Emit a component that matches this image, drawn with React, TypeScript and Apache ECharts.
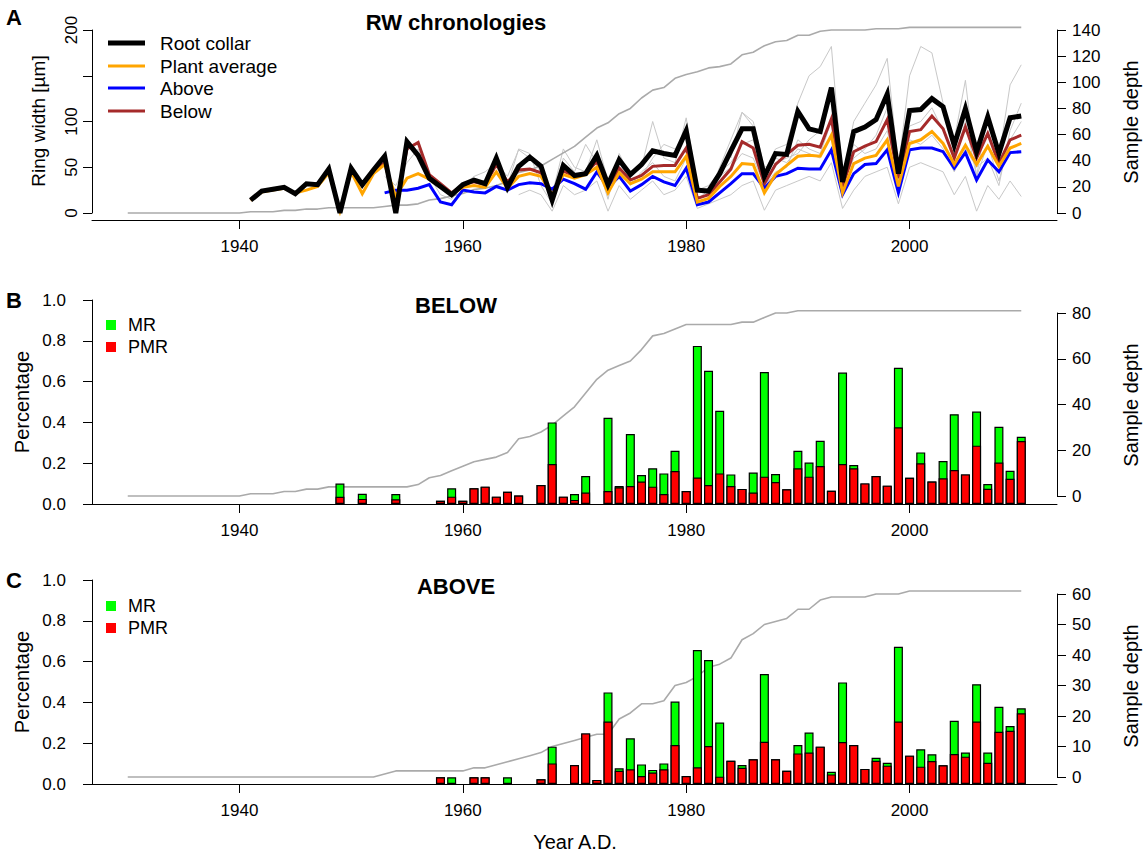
import React, { useEffect, useRef } from 'react';
import * as echarts from 'echarts';

const FONT = "'Liberation Sans', Arial, Helvetica, sans-serif";
const X_MIN = 1926.8;
const X_MAX = 2013.2;
const xTickYears = [1940, 1960, 1980, 2000];
const rwTickLabels = [0, 50, 100, 200];
const RW_MAX = 200;

// ---- Panel A: ring-width chronologies (µm) ----
const rwStart = 1941;
const rootCollar = [14, 24, 26, 28, 21, 32, 31, 48, 0, 49, 31, 47, 62, 0, 78, 63, 38, 29, 20, 31, 36, 32, 60, 28, 51, 61, 51, 14, 52, 41, 43, 63, 31, 58, 42, 53, 68, 65, 63, 90, 25, 24, 43, 68, 92, 92, 40, 65, 64, 111, 92, 89, 137, 34, 89, 94, 102, 130, 43, 112, 113, 125, 116, 74, 114, 67, 105, 65, 104, 106];
const plantAverage = [14, 23, 25, 27, 22, 25, 29, 44, 2, 45, 21, 43, 53, 18, 38, 43, 37, 29, 21, 28, 30, 28, 45, 27, 40, 43, 40, 20, 42, 38, 42, 50, 22, 44, 32, 37, 45, 45, 45, 62, 12, 16, 29, 40, 54, 53, 22, 42, 52, 62, 63, 62, 85, 22, 54, 60, 63, 80, 29, 76, 80, 89, 76, 53, 74, 53, 73, 51, 71, 76];
const belowRW = [14, 24, 26, 28, 21, 32, 31, 48, 1, 49, 30, 46, 55, 10, 70, 77, 42, 32, 22, 31, 34, 31, 53, 34, 47, 48, 44, 17, 46, 40, 44, 56, 24, 49, 36, 41, 51, 52, 52, 71, 16, 20, 34, 48, 78, 71, 32, 53, 64, 74, 75, 72, 103, 29, 67, 73, 78, 102, 38, 89, 91, 106, 92, 60, 94, 60, 87, 54, 80, 85];
const aboveStart = 1953;
const aboveRW = [22, 25, 25, 27, 31, 12, 9, 25, 23, 22, 29, 25, 31, 33, 32, 26, 37, 32, 26, 45, 28, 40, 24, 31, 40, 34, 30, 49, 9, 12, 22, 32, 43, 43, 27, 40, 43, 49, 48, 48, 69, 20, 43, 53, 54, 69, 22, 69, 71, 71, 67, 49, 66, 36, 58, 45, 66, 67];

// individual (thin grey) series
const indiv1Start = 1984;
const indiv1 = [60, 110, 95, 45, 70, 75, 120, 150, 160, 182, 40, 100, 120, 140, 169, 50, 150, 182, 175, 120, 80, 145, 40, 110, 60, 140, 162];
const indiv2Start = 1963;
const indiv2 = [50, 30, 70, 65, 30, 10, 60, 45, 75, 55, 15, 65, 40, 50, 100, 60, 55, 104, 30, 20, 50, 80, 110, 100, 50, 55, 60, 65, 80, 90, 130, 30, 60, 70, 85, 115, 35, 95, 100, 115, 90, 60, 100, 40, 75, 35, 80, 100];
const indiv3Start = 1965;
const indiv3 = [20, 25, 20, 2, 30, 20, 25, 35, 2, 30, 15, 25, 35, 20, 25, 40, 5, 10, 15, 20, 30, 35, 3, 25, 30, 35, 40, 35, 55, 5, 25, 40, 45, 50, 10, 50, 55, 50, 45, 20, 40, 2, 30, 15, 35, 18];
const indiv4Start = 1953;
const indiv4 = [40, 30, 55, 70, 40, 20, 15, 30, 40, 45, 55, 40, 69, 60, 45, 20, 70, 50, 45, 80, 35, 55, 35, 40, 60, 75, 70, 85, 25, 30, 45, 55, 75, 80, 35, 60, 55, 70, 65, 60];
const indiv5Start = 1975;
const indiv5 = [30, 45, 55, 40, 35, 60, 15, 25, 40, 50, 65, 60, 30, 45, 50, 80, 70, 65, 100, 25, 75, 65, 70, 90, 40, 80, 75, 85, 70, 45, 70, 50, 60, 30, 90, 120];

// sample depth, 1930-2010
const depthStart = 1930;
const depthA = [0, 0, 0, 0, 0, 0, 0, 0, 0, 0, 0, 1, 1, 1, 2, 2, 3, 3, 4, 4, 4, 4, 4, 5, 6, 6, 7, 10, 11, 13, 15, 18, 19, 21, 24, 31, 33, 36, 41, 46, 51, 58, 65, 69, 76, 80, 88, 94, 96, 103, 106, 108, 111, 112, 114, 121, 123, 128, 131, 132, 136, 136, 139, 140, 140, 140, 140, 141, 141, 141, 142, 142, 142, 142, 142, 142, 142, 142, 142, 142, 142];
const depthB = [0, 0, 0, 0, 0, 0, 0, 0, 0, 0, 0, 1, 1, 1, 2, 2, 3, 3, 4, 4, 4, 4, 4, 4, 4, 4, 5, 8, 9, 11, 13, 15, 16, 17, 19, 25, 26, 28, 31, 35, 39, 45, 51, 55, 57, 59, 64, 70, 71, 73, 75, 75, 75, 75, 75, 76, 76, 78, 80, 80, 81, 81, 81, 81, 81, 81, 81, 81, 81, 81, 81, 81, 81, 81, 81, 81, 81, 81, 81, 81, 81];
const depthC = [0, 0, 0, 0, 0, 0, 0, 0, 0, 0, 0, 0, 0, 0, 0, 0, 0, 0, 0, 0, 0, 0, 0, 1, 2, 2, 2, 2, 2, 2, 2, 3, 3, 4, 5, 6, 7, 8, 10, 11, 12, 13, 14, 14, 19, 21, 24, 24, 25, 30, 31, 33, 36, 37, 39, 45, 47, 50, 51, 52, 55, 55, 58, 59, 59, 59, 59, 60, 60, 60, 61, 61, 61, 61, 61, 61, 61, 61, 61, 61, 61];

// ---- Panel B: BELOW (fractions) ----
const yearsB = [1949, 1951, 1954, 1958, 1959, 1960, 1961, 1962, 1963, 1964, 1965, 1967, 1968, 1969, 1970, 1971, 1973, 1974, 1975, 1976, 1977, 1978, 1979, 1980, 1981, 1982, 1983, 1984, 1985, 1986, 1987, 1988, 1989, 1990, 1991, 1992, 1993, 1994, 1995, 1996, 1997, 1998, 1999, 2000, 2001, 2002, 2003, 2004, 2005, 2006, 2007, 2008, 2009, 2010];
const pmrB = [0.035, 0.025, 0.023, 0.016, 0.036, 0.016, 0.077, 0.085, 0.036, 0.06, 0.042, 0.093, 0.196, 0.036, 0.02, 0.056, 0.064, 0.082, 0.088, 0.11, 0.085, 0.049, 0.162, 0.064, 0.13, 0.093, 0.15, 0.088, 0.074, 0.056, 0.134, 0.108, 0.072, 0.175, 0.134, 0.186, 0.065, 0.196, 0.175, 0.101, 0.137, 0.09, 0.376, 0.129, 0.2, 0.11, 0.126, 0.167, 0.145, 0.286, 0.075, 0.203, 0.124, 0.309];
const mrB = [0.065, 0.025, 0.026, 0, 0.041, 0, 0, 0, 0, 0, 0, 0, 0.204, 0, 0.029, 0.081, 0.359, 0.006, 0.255, 0.032, 0.09, 0.101, 0.099, 0, 0.645, 0.56, 0.307, 0.057, 0, 0.098, 0.513, 0.039, 0, 0.086, 0.069, 0.124, 0, 0.448, 0.016, 0, 0, 0, 0.292, 0, 0.053, 0, 0.085, 0.273, 0, 0.167, 0.023, 0.176, 0.039, 0.021];

// ---- Panel C: ABOVE (fractions) ----
const yearsC = [1958, 1959, 1961, 1962, 1964, 1967, 1968, 1970, 1971, 1972, 1973, 1974, 1975, 1976, 1977, 1978, 1979, 1980, 1981, 1982, 1983, 1984, 1985, 1986, 1987, 1988, 1989, 1990, 1991, 1992, 1993, 1994, 1995, 1996, 1997, 1998, 1999, 2000, 2001, 2002, 2003, 2004, 2005, 2006, 2007, 2008, 2009, 2010];
const pmrC = [0.033, 0, 0.033, 0.033, 0, 0.023, 0.101, 0.093, 0.248, 0.02, 0.306, 0.065, 0.072, 0.039, 0.056, 0.072, 0.191, 0.039, 0.082, 0.186, 0.036, 0.114, 0.08, 0.121, 0.207, 0.121, 0.065, 0.15, 0.154, 0.183, 0.047, 0.206, 0.191, 0.074, 0.114, 0.09, 0.306, 0.139, 0.085, 0.113, 0.092, 0.147, 0.134, 0.306, 0.104, 0.256, 0.261, 0.347];
const mrC = [0, 0.033, 0, 0, 0.033, 0, 0.082, 0, 0, 0, 0.143, 0.012, 0.152, 0.057, 0.013, 0.029, 0.213, 0, 0.575, 0.422, 0.265, 0, 0.013, 0, 0.332, 0, 0, 0.041, 0.098, 0, 0.013, 0.292, 0, 0, 0.015, 0.014, 0.367, 0, 0.085, 0.033, 0, 0.163, 0.02, 0.183, 0.05, 0.123, 0.023, 0.024];

const seq = (start: number, vals: number[]) => vals.map((v, i) => [start + i, v]);
const byYears = (years: number[], vals: number[]) => years.map((y, i) => [y, vals[i]]);

const TICK_FS = 17;
const txt = { color: '#000', fontFamily: FONT };
const GRID_A = { left: 92, right: 88, top: 30, height: 183 };

function xAxisCfg(gridIndex: number, show: boolean, offset = 0) {
  return {
    type: 'value', gridIndex, min: X_MIN, max: X_MAX, show, offset,
    axisLine: { show: true, onZero: false, lineStyle: { color: '#000', width: 1 } },
    axisTick: { show: true, customValues: xTickYears, length: 9, lineStyle: { color: '#000' } },
    axisLabel: { show: true, customValues: xTickYears, fontSize: TICK_FS, margin: 18, formatter: (v: number) => String(v), ...txt },
    splitLine: { show: false },
  };
}

function rightAxis(gridIndex: number, max: number, interval: number) {
  return {
    type: 'value', gridIndex, position: 'right', min: 0, max, interval,
    axisLine: { show: true, lineStyle: { color: '#000' } },
    axisTick: { show: true, length: 9, lineStyle: { color: '#000' } },
    axisLabel: { fontSize: TICK_FS, margin: 15, formatter: (v: number) => String(v), ...txt },
    splitLine: { show: false },
  };
}

function leftFracAxis(gridIndex: number) {
  return {
    type: 'value', gridIndex, position: 'left', min: 0, max: 1, interval: 0.2,
    axisLine: { show: true, lineStyle: { color: '#000' } },
    axisTick: { show: true, length: 9, lineStyle: { color: '#000' } },
    axisLabel: { fontSize: TICK_FS, margin: 26, formatter: (v: number) => v.toFixed(1), ...txt },
    splitLine: { show: false },
  };
}

function greyLine(start: number, vals: number[]) {
  return {
    type: 'line', xAxisIndex: 0, yAxisIndex: 0, data: seq(start, vals), symbol: 'none', clip: false,
    lineStyle: { color: '#c8c8c8', width: 1 }, z: 1,
  };
}

function depthLine(xi: number, yi: number, vals: number[]) {
  return {
    type: 'line', xAxisIndex: xi, yAxisIndex: yi, data: seq(depthStart, vals), symbol: 'none', clip: false,
    lineStyle: { color: '#aaaaaa', width: 1.6 }, z: 2,
  };
}

function barSeries(xi: number, yi: number, years: number[], vals: number[], color: string, z: number) {
  return {
    type: 'bar', xAxisIndex: xi, yAxisIndex: yi, barWidth: 9, barGap: '-100%',
    data: byYears(years, vals),
    itemStyle: { color, borderColor: '#000', borderWidth: 1.2 }, z,
  };
}

function rwLine(start: number, vals: number[], color: string, width: number, z: number) {
  return {
    type: 'line', xAxisIndex: 0, yAxisIndex: 0, data: seq(start, vals), symbol: 'none', clip: false,
    lineStyle: { color, width, join: 'miter' }, z,
  };
}

function label(text: string, x: number, y: number, size: number, bold = false, rotate = false, align = 'center') {
  return {
    type: 'text', x, y, rotation: rotate ? Math.PI / 2 : 0, z: 10,
    style: { text, fill: '#000', font: `${bold ? 'bold ' : ''}${size}px ${FONT}`, align, verticalAlign: 'middle' },
  };
}

function legendLine(y: number, color: string, width: number, text: string) {
  return [
    { type: 'line', shape: { x1: 108, y1: y, x2: 145, y2: y }, style: { stroke: color, lineWidth: width }, z: 10 },
    label(text, 160, y, 19, false, false, 'left'),
  ];
}

function legendBox(y: number, color: string, text: string) {
  return [
    { type: 'rect', shape: { x: 106, y: y - 5, width: 10, height: 10 }, style: { fill: color }, z: 10 },
    label(text, 128, y, 18, false, false, 'left'),
  ];
}

// rotated tick labels of the ring-width axis (R's las=0 style), placed on the axis' value scale
function rwAxisLabels() {
  return rwTickLabels.map((v) =>
    label(String(v), 71, GRID_A.top + GRID_A.height * (1 - v / RW_MAX), TICK_FS, false, true),
  );
}

function buildOption() {
  const totalB = pmrB.map((v, i) => v + mrB[i]);
  const totalC = pmrC.map((v, i) => v + mrC[i]);
  const grid = [
    GRID_A,
    { left: 92, right: 88, top: 300, height: 204 },
    { left: 92, right: 88, top: 313, height: 183 },
    { left: 92, right: 88, top: 580, height: 204 },
    { left: 92, right: 88, top: 594, height: 183 },
  ];
  const xAxis = [
    xAxisCfg(0, true, 7),
    xAxisCfg(1, true),
    xAxisCfg(2, false),
    xAxisCfg(3, true),
    xAxisCfg(4, false),
  ];
  const yAxis = [
    {
      type: 'value', gridIndex: 0, position: 'left', min: 0, max: RW_MAX, interval: 50,
      axisLine: { show: true, lineStyle: { color: '#000' } },
      axisTick: { show: true, length: 9, lineStyle: { color: '#000' } },
      axisLabel: { show: false },
      splitLine: { show: false },
    },
    rightAxis(0, 140, 20),
    leftFracAxis(1),
    rightAxis(2, 80, 20),
    leftFracAxis(3),
    rightAxis(4, 60, 10),
  ];
  const series: any[] = [
    greyLine(indiv1Start, indiv1),
    greyLine(indiv2Start, indiv2),
    greyLine(indiv3Start, indiv3),
    greyLine(indiv4Start, indiv4),
    greyLine(indiv5Start, indiv5),
    depthLine(0, 1, depthA),
    rwLine(rwStart, belowRW, '#a52a2a', 3, 4),
    rwLine(aboveStart, aboveRW, '#0000ff', 3, 5),
    rwLine(rwStart, plantAverage, '#ffa500', 3, 6),
    rwLine(rwStart, rootCollar, '#000000', 5, 7),
    depthLine(2, 3, depthB),
    barSeries(1, 2, yearsB, totalB, '#00ff00', 3),
    barSeries(1, 2, yearsB, pmrB, '#ff0000', 4),
    depthLine(4, 5, depthC),
    barSeries(3, 4, yearsC, totalC, '#00ff00', 3),
    barSeries(3, 4, yearsC, pmrC, '#ff0000', 4),
  ];
  const graphic = [
    label('A', 6, 17, 22, true, false, 'left'),
    label('B', 6, 300, 22, true, false, 'left'),
    label('C', 6, 580, 22, true, false, 'left'),
    label('RW chronologies', 456, 22, 22, true),
    label('BELOW', 456, 305, 22, true),
    label('ABOVE', 456, 586, 22, true),
    label('Ring width [µm]', 38, 121, 19, false, true),
    label('Percentage', 22, 402, 20, false, true),
    label('Percentage', 22, 682, 20, false, true),
    label('Sample depth', 1131, 122, 20, false, true),
    label('Sample depth', 1131, 405, 20, false, true),
    label('Sample depth', 1131, 686, 20, false, true),
    label('Year A.D.', 575, 842, 20),
    ...rwAxisLabels(),
    ...legendLine(43, '#000000', 5, 'Root collar'),
    ...legendLine(66, '#ffa500', 3, 'Plant average'),
    ...legendLine(88, '#0000ff', 3, 'Above'),
    ...legendLine(111, '#a52a2a', 3, 'Below'),
    ...legendBox(325, '#00ff00', 'MR'),
    ...legendBox(347, '#ff0000', 'PMR'),
    ...legendBox(606, '#00ff00', 'MR'),
    ...legendBox(628, '#ff0000', 'PMR'),
  ];
  return {
    animation: false,
    backgroundColor: '#ffffff',
    textStyle: { fontFamily: FONT },
    grid, xAxis, yAxis, series, graphic,
  };
}

export default function App() {
  const ref = useRef<HTMLDivElement>(null);
  useEffect(() => {
    document.body.style.margin = '0';
    const chart = echarts.init(ref.current as HTMLDivElement, null, { renderer: 'svg' });
    chart.setOption(buildOption() as any);
    return () => chart.dispose();
  }, []);
  return (
    <div
      ref={ref}
      style={{ position: 'absolute', left: 0, top: 0, width: 1145, height: 854, background: '#fff' }}
    />
  );
}
